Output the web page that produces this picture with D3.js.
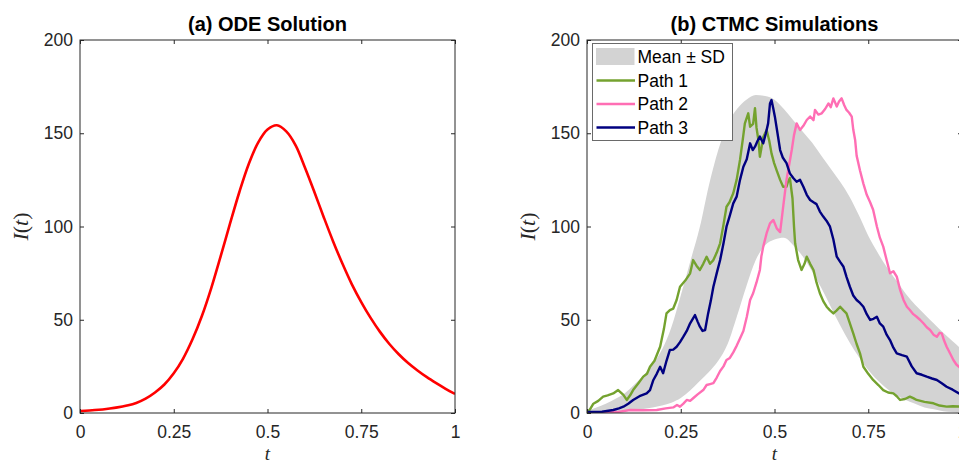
<!DOCTYPE html>
<html>
<head>
<meta charset="utf-8">
<script src="https://cdn.jsdelivr.net/npm/d3@7"></script>
<style>
  html, body { margin: 0; padding: 0; background: #ffffff; }
  svg { display: block; }
</style>
</head>
<body>
<svg id="chart" width="959" height="464"></svg>
<script>
// ---------------- DATA ----------------
const xTickValues = [0, 0.25, 0.5, 0.75, 1];
const xTickLabels = ["0", "0.25", "0.5", "0.75", "1"];
const yTickValues = [0, 50, 100, 150, 200];
const yTickLabels = ["0", "50", "100", "150", "200"];
const panelTitles = ["(a) ODE Solution", "(b) CTMC Simulations"];
const legendLabels = ["Mean \u00b1 SD", "Path 1", "Path 2", "Path 3"];

// (a) ODE solution I(t)
const odeT = [0,0.025,0.05,0.075,0.1,0.125,0.15,0.175,0.2,0.225,0.25,0.275,0.3,0.325,0.35,0.375,0.4,0.425,0.45,0.475,0.5,0.525,0.55,0.575,0.6,0.625,0.65,0.675,0.7,0.725,0.75,0.775,0.8,0.825,0.85,0.875,0.9,0.925,0.95,0.975,1];
const odeI = [1,1.3,1.7,2.3,3.0,4.0,5.4,7.7,11,15.3,21.3,29.2,39.5,52,67,84,101.5,118.5,133.5,145,152,154.3,151,143.5,131.5,118.5,105,92,80,69,59.5,51,43.5,37,31.5,26.8,22.8,19.2,16,13,10.2];

// (b) mean ± SD band
const bandT = [0,0.025,0.05,0.075,0.1,0.125,0.15,0.175,0.2,0.225,0.25,0.275,0.3,0.325,0.35,0.375,0.4,0.425,0.45,0.475,0.5,0.525,0.55,0.575,0.6,0.625,0.65,0.675,0.7,0.725,0.75,0.775,0.8,0.825,0.85,0.875,0.9,0.925,0.95,0.975,1];
const bandLo = [0,0,0,0.3,0.8,1.5,2.2,3,4,5.5,8,12,17,22,28,37,52,68,82,90,93,94,90,84,76,67,57,47,38,30,23,17.5,13,9.5,7,5,3,2,1,0.5,0];
const bandHi = [1,3,5,7.5,10.5,15,20,26,34,46,63,81,99,122,141,155,163,168,170.5,170,168,163,157,151,145,138,131,124,116,106,95,86,78,71,64,58,53,48,43,38.5,34];

// (b) Path 1
const path1T = [0,0.008,0.017,0.03,0.043,0.055,0.07,0.083,0.097,0.106,0.115,0.123,0.137,0.15,0.16,0.168,0.18,0.195,0.205,0.212,0.221,0.23,0.239,0.248,0.262,0.275,0.283,0.292,0.301,0.31,0.319,0.328,0.337,0.346,0.355,0.364,0.372,0.38,0.39,0.399,0.408,0.415,0.421,0.43,0.435,0.443,0.448,0.452,0.457,0.461,0.465,0.47,0.479,0.486,0.492,0.499,0.506,0.515,0.523,0.532,0.536,0.541,0.548,0.552,0.555,0.563,0.572,0.58,0.586,0.595,0.604,0.612,0.621,0.63,0.639,0.648,0.657,0.666,0.675,0.684,0.692,0.701,0.71,0.719,0.728,0.737,0.75,0.763,0.777,0.79,0.803,0.817,0.826,0.835,0.848,0.861,0.87,0.879,0.9,0.924,0.94,0.959,0.975,1];
const path1I = [0,2,5,6.5,8.8,9.5,10.5,12.3,9.7,7,9.5,12.3,16,19.5,21,24.8,28,35.5,45,53.4,55.2,56,60.6,67.7,71,74.9,82,79,76.7,80,83.8,80,82,86,91,101,110.6,113,117.8,125,135.7,146,155.3,160.7,153.5,155,163.4,153,146.4,137.4,142,148,151.7,146,139.2,134,130,125,121.3,121.3,124,126,115,100,91,82,76.7,80,83.8,80,76.7,70,64.2,60,57,55,53.4,55,57,55,53.4,48,42.7,37,32,24.8,21,17.7,15,12.3,11,10.5,9,7,7.5,8.8,8,7,6,5.2,4,3.4,3.6,3.4];

// (b) Path 2
const path2T = [0,0.08,0.115,0.15,0.186,0.21,0.23,0.24,0.248,0.257,0.266,0.275,0.283,0.295,0.31,0.319,0.328,0.337,0.346,0.355,0.364,0.372,0.381,0.39,0.399,0.408,0.417,0.426,0.435,0.443,0.452,0.461,0.465,0.47,0.479,0.488,0.497,0.506,0.515,0.524,0.532,0.539,0.546,0.552,0.559,0.568,0.577,0.586,0.595,0.604,0.608,0.617,0.626,0.635,0.644,0.65,0.657,0.666,0.672,0.679,0.686,0.692,0.699,0.706,0.71,0.715,0.719,0.728,0.737,0.746,0.755,0.763,0.773,0.781,0.79,0.799,0.808,0.817,0.826,0.835,0.844,0.853,0.861,0.87,0.879,0.888,0.897,0.906,0.915,0.924,0.933,0.94,0.946,0.952,0.959,0.968,0.977,0.985,0.992,1];
const path2I = [0,0.5,1.6,1.5,1.6,2.5,3,4.3,3.4,5,7,6.5,7.9,10,12.3,15,15.5,16,19,22.5,25,28.4,29.5,32.5,36,40,44,51.5,60.6,64.2,70,76.7,84,89.2,96.4,101.7,103.5,99,97,112,125,133,141,149,155.3,151.7,154,157.1,159,157,162.5,160,160.7,163,166,164,168.7,164.3,167,168.7,165,162.5,161,158.9,152,146.4,138,130,123,117,113,109,100,94,89.2,82,74.9,76,73.1,66,60.6,57,55.2,53,51.6,50,48.1,46,44.5,42,40.9,43,42.7,39,35.5,32,28.4,26,24.8,23];

// (b) Path 3
const path3T = [0,0.04,0.07,0.085,0.097,0.11,0.123,0.14,0.159,0.168,0.177,0.186,0.195,0.203,0.212,0.221,0.23,0.239,0.248,0.257,0.266,0.275,0.288,0.295,0.301,0.308,0.315,0.323,0.33,0.337,0.346,0.355,0.364,0.372,0.381,0.39,0.399,0.408,0.417,0.426,0.435,0.442,0.448,0.455,0.461,0.47,0.477,0.483,0.488,0.492,0.497,0.501,0.508,0.515,0.522,0.532,0.541,0.55,0.559,0.568,0.577,0.586,0.595,0.604,0.612,0.621,0.63,0.639,0.648,0.657,0.666,0.675,0.684,0.692,0.701,0.71,0.719,0.728,0.737,0.746,0.755,0.764,0.773,0.781,0.79,0.799,0.808,0.817,0.826,0.84,0.853,0.866,0.879,0.893,0.906,0.92,0.933,0.946,0.959,0.975,0.992,1];
const path3I = [0.5,0.7,1.6,2.5,3.4,5,7,9,10.5,12.3,17.7,21,24.8,21.3,28,33.8,34,35.5,38,40.9,44,48.1,52.5,49,46.3,44,44.5,53.4,60,67.7,75,82,91,99.9,106,112.4,116,125,132,136,144.6,141,142.8,146,148.2,144.6,150,155.3,166,167.8,163,158.9,150,141,137,134,128.5,126,124,125,121.3,117,114.2,113,112,108,105.3,103,99.9,93,83.8,81,78.4,73,67.7,63,60.6,59,57,53,49.9,50.5,51.6,48,46.3,42,39.1,35,32,31,30.2,25,21.3,20.5,19.5,18.5,17.7,16,14.1,12.5,10.5,10];

// ---------------- DRAW ----------------
const svg = d3.select("#chart");
const axisColor = "#262626";
const bandColor = "#d3d3d3";
const pathColors = ["#74a22f", "#ff6eb4", "#000080"];
const tickFont = "'Liberation Sans', Arial, Helvetica, sans-serif";
const mathFont = "'Liberation Serif', 'DejaVu Serif', 'Times New Roman', serif";

const plotW = 375, plotTop = 40, plotBottom = 413;
const panelX = [80, 587];

function zip(ts, vs) { return ts.map((t, i) => ({t: t, v: vs[i]})); }

panelX.forEach((x0, pi) => {
  const x = d3.scaleLinear().domain([0, 1]).range([x0, x0 + plotW]);
  const y = d3.scaleLinear().domain([0, 200]).range([plotBottom, plotTop]);
  const g = svg.append("g");

  const clipId = "clip" + pi;
  svg.append("clipPath").attr("id", clipId)
    .append("rect").attr("x", x0).attr("y", plotTop).attr("width", plotW).attr("height", plotBottom - plotTop);

  const data = g.append("g").attr("clip-path", "url(#" + clipId + ")");

  if (pi === 0) {
    const line = d3.line().x(d => x(d.t)).y(d => y(d.v)).curve(d3.curveCatmullRom.alpha(0.5));
    data.append("path").datum(zip(odeT, odeI))
      .attr("d", line).attr("fill", "none").attr("stroke", "#ff0000")
      .attr("stroke-width", 2.6).attr("stroke-linejoin", "round");
  } else {
    const area = d3.area().x(d => x(d.t)).y0(d => y(d.lo)).y1(d => y(d.hi)).curve(d3.curveMonotoneX);
    data.append("path").datum(bandT.map((t, i) => ({t: t, lo: bandLo[i], hi: bandHi[i]})))
      .attr("d", area).attr("fill", bandColor).attr("stroke", "none");
    const line = d3.line().x(d => x(d.t)).y(d => y(d.v));
    const paths = [[path1T, path1I], [path2T, path2I], [path3T, path3I]];
    paths.forEach((p, k) => {
      data.append("path").datum(zip(p[0], p[1]))
        .attr("d", line).attr("fill", "none").attr("stroke", pathColors[k])
        .attr("stroke-width", 2.4).attr("stroke-linejoin", "round");
    });
  }

  // axes
  const xb = d3.axisBottom(x).tickValues(xTickValues).tickFormat((d, i) => xTickLabels[i])
    .tickSizeInner(-4).tickSizeOuter(0).tickPadding(13);
  const xt = d3.axisTop(x).tickValues(xTickValues).tickFormat("").tickSizeInner(-4).tickSizeOuter(0);
  const yl = d3.axisLeft(y).tickValues(yTickValues).tickFormat((d, i) => yTickLabels[i])
    .tickSizeInner(-4).tickSizeOuter(0).tickPadding(7);
  const yr = d3.axisRight(y).tickValues(yTickValues).tickFormat("").tickSizeInner(-4).tickSizeOuter(0);

  const axes = [
    g.append("g").attr("transform", `translate(0,${plotBottom})`).call(xb),
    g.append("g").attr("transform", `translate(0,${plotTop})`).call(xt),
    g.append("g").attr("transform", `translate(${x0},0)`).call(yl),
    g.append("g").attr("transform", `translate(${x0 + plotW},0)`).call(yr)
  ];
  axes.forEach(a => {
    a.select(".domain").remove();
    a.selectAll("line").attr("stroke", axisColor).attr("stroke-width", 1);
    a.selectAll("text").attr("fill", axisColor).style("font-family", tickFont).style("font-size", "17.5px");
  });

  g.append("rect").attr("x", x0).attr("y", plotTop).attr("width", plotW).attr("height", plotBottom - plotTop)
    .attr("fill", "none").attr("stroke", axisColor).attr("stroke-width", 1);

  // title
  g.append("text").attr("x", x0 + plotW / 2).attr("y", 30.5)
    .attr("text-anchor", "middle").style("font-family", tickFont)
    .style("font-size", "20px").style("font-weight", "bold").attr("fill", "#000")
    .text(panelTitles[pi]);

  // x label
  g.append("text").attr("x", x0 + plotW / 2).attr("y", 460)
    .attr("text-anchor", "middle").style("font-family", mathFont)
    .style("font-size", "19px").style("font-style", "italic").attr("fill", axisColor)
    .text("t");

  // y label
  const ylab = g.append("text")
    .attr("transform", `translate(${x0 - 52},${(plotTop + plotBottom) / 2}) rotate(-90)`)
    .attr("text-anchor", "middle").style("font-family", mathFont)
    .style("font-size", "22px").attr("fill", axisColor);
  ylab.append("tspan").style("font-style", "italic").text("I");
  ylab.append("tspan").text("(");
  ylab.append("tspan").style("font-style", "italic").text("t");
  ylab.append("tspan").text(")");

  // legend
  if (pi === 1) {
    const lg = g.append("g");
    lg.append("rect").attr("x", 592.5).attr("y", 43.5).attr("width", 140).attr("height", 97)
      .attr("fill", "#fff").attr("stroke", "#6a6a6a").attr("stroke-width", 1);
    const rows = [57, 80.5, 104, 127.5];
    lg.append("rect").attr("x", 596).attr("y", 48).attr("width", 38.5).attr("height", 17)
      .attr("fill", bandColor);
    [0, 1, 2].forEach(k => {
      lg.append("line").attr("x1", 596.5).attr("x2", 635).attr("y1", rows[k + 1]).attr("y2", rows[k + 1])
        .attr("stroke", pathColors[k]).attr("stroke-width", 2.4);
    });
    legendLabels.forEach((lab, k) => {
      lg.append("text").attr("x", 637.5).attr("y", rows[k]).attr("dy", "0.35em")
        .style("font-family", tickFont).style("font-size", "17.5px").attr("fill", "#000")
        .text(lab);
    });
  }
});
</script>
</body>
</html>
